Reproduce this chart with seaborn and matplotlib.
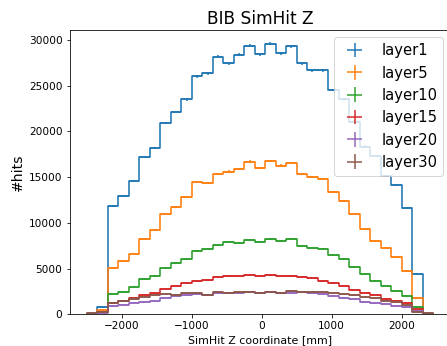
import numpy as np
import pandas as pd
import matplotlib
matplotlib.use("Agg")
import matplotlib.pyplot as plt
import seaborn as sns

# Bin edges (mm): 33 bins of 150 mm from -2500 to 2450
bin_lo, bin_hi, bin_w = -2500, 2450, 150
bin_edges = np.arange(bin_lo, bin_hi + 1, bin_w)
bin_centers = (bin_edges[:-1] + bin_edges[1:]) / 2

layer_names = ["layer1", "layer5", "layer10", "layer15", "layer20", "layer30"]

layer1 = [0, 770, 11800, 12990, 14600, 17220, 18170, 20910, 22120, 23540, 26020, 26350,
          28170, 27480, 28390, 29380, 28430, 29600, 28570, 29300, 27440, 26720, 26720,
          24530, 23540, 21090, 18350, 17330, 15140, 14160, 11670, 4410, 0]
layer5 = [0, 470, 5040, 5840, 6640, 8240, 9200, 10950, 11780, 12880, 14450, 14380,
          15360, 15610, 15910, 16710, 15990, 16790, 16270, 16530, 15360, 15000, 14810,
          13360, 12440, 10980, 9300, 8060, 7230, 6310, 4740, 1820, 0]
layer10 = [0, 250, 2220, 2480, 3020, 3830, 4190, 5040, 5580, 6060, 6930, 7120,
           7620, 7900, 7840, 8100, 7950, 8240, 8030, 8240, 7480, 7300, 7190,
           6530, 6060, 5150, 4380, 3680, 3100, 2590, 2000, 830, 0]
layer15 = [0, 200, 1270, 1420, 1780, 2150, 2300, 2740, 3100, 3390, 3680, 3720,
           4050, 4190, 4230, 4340, 4160, 4300, 4230, 4190, 4050, 3940, 3680,
           3460, 3100, 2660, 2330, 2110, 1640, 1490, 1200, 550, 0]
layer20 = [0, 150, 910, 1050, 1270, 1380, 1490, 1820, 2000, 2080, 2190, 2150,
           2370, 2330, 2370, 2440, 2300, 2410, 2300, 2370, 2410, 2370, 2260,
           2000, 1820, 1680, 1380, 1200, 1130, 940, 830, 390, 60]
layer30 = [140, 200, 1270, 1490, 1710, 1930, 2080, 2190, 2150, 2300, 2300, 2150,
           2410, 2370, 2410, 2410, 2370, 2410, 2370, 2520, 2410, 2410, 2480,
           2330, 2190, 2080, 1930, 1750, 1490, 1380, 1050, 280, 100]

series = [layer1, layer5, layer10, layer15, layer20, layer30]
colors = sns.color_palette("tab10", 6)

fig = plt.figure(figsize=(447 / 72, 346 / 72), dpi=72)
ax = fig.add_axes([69.5 / 447, 31.7 / 346, (450.5 - 69.5) / 447, (314.3 - 30) / 346])

for name, counts, c in zip(layer_names, series, colors):
    counts = np.asarray(counts, dtype=float)
    df = pd.DataFrame({"z": bin_centers, "n": counts})
    sns.histplot(data=df, x="z", weights="n", binwidth=bin_w, binrange=(bin_lo, bin_hi),
                 element="step", fill=False, color=c, linewidth=1.6, ax=ax)
    ax.errorbar(bin_centers, counts, xerr=bin_w / 2, yerr=np.sqrt(counts), fmt="none",
                ecolor=c, elinewidth=1.5, label=name)

ax.set_xlim(-2747.5, 2697.5)
ax.set_ylim(0, 31100)
ax.set_title("BIB SimHit Z", fontsize=17)
ax.set_xlabel("SimHit Z coordinate [mm]", fontsize=11)
ax.set_ylabel("#hits", fontsize=14)
ax.tick_params(labelsize=10.5)
ax.legend(loc="upper right", fontsize=14.7)

fig.savefig("out.png", dpi=72)
